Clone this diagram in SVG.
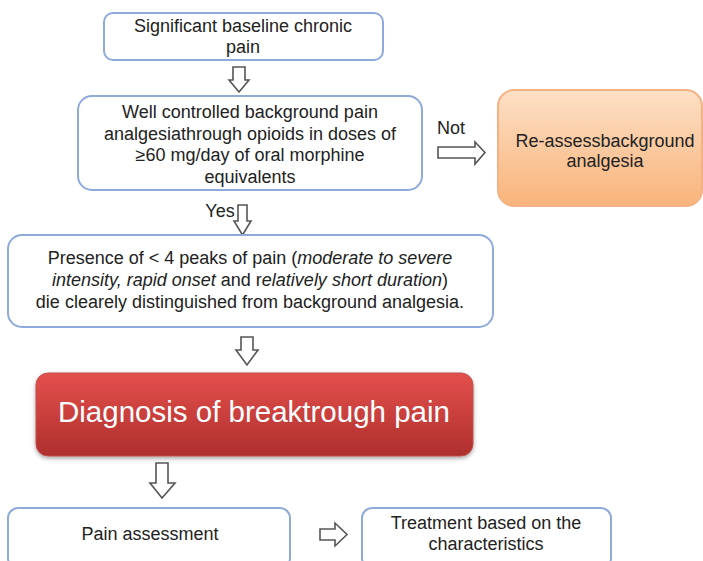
<svg xmlns="http://www.w3.org/2000/svg" width="703" height="561" viewBox="0 0 703 561">
<style>
.box{fill:#fff;stroke:#8eaadb;stroke-width:2}
.t{font-family:"Liberation Sans",Arial,sans-serif;font-size:18px;fill:#222;text-anchor:middle}
.arr{fill:#fff;stroke:#555;stroke-width:1.6;stroke-linejoin:miter}
</style>
<defs>
<linearGradient id="og" x1="0" y1="0" x2="0" y2="1">
<stop offset="0" stop-color="#fde0c6"/><stop offset="1" stop-color="#f8b37a"/>
</linearGradient>
<linearGradient id="rg" x1="0" y1="0" x2="0" y2="1">
<stop offset="0" stop-color="#e4504c"/><stop offset="1" stop-color="#ae2f2d"/>
</linearGradient>
<filter id="sh" x="-10%" y="-10%" width="120%" height="130%">
<feDropShadow dx="0" dy="2" stdDeviation="2" flood-color="#000" flood-opacity="0.35"/>
</filter>
</defs>
<rect width="703" height="561" fill="#fff"/>
<g id="connectors">
<path class="arr" d="M233,67 H245 V80 H249 L239,92 L229,80 H233 Z"/>
<path class="arr" d="M438,147 H475 V142 L485,152.5 L475,164 V158 H438 Z"/>
<text class="t" x="451" y="134">Not</text>
<path class="arr" d="M238,205 H247 V221 H251 L242.5,235 L234,221 H238 Z"/>
<text class="t" x="220" y="217">Yes</text>
<path class="arr" d="M241,337 H253 V350 H258 L247,365 L236,350 H241 Z"/>
<path class="arr" d="M156,463 H168 V483 H175 L162,498 L150,483 H156 Z"/>
<path class="arr" d="M320,529 H335 V523 L347,534.5 L335,546 V540 H320 Z"/>
</g>
<g id="n1">
<rect class="box" x="104" y="13" width="279" height="47" rx="9"/>
<text class="t" x="243" y="32">Significant baseline chronic</text>
<text class="t" x="243" y="53">pain</text>
</g>
<g id="n2">
<rect class="box" x="78" y="96" width="344" height="94" rx="14"/>
<text class="t" x="250" y="118">Well controlled background pain</text>
<text class="t" x="250" y="139.5">analgesiathrough opioids in doses of</text>
<text class="t" x="250" y="161">≥60 mg/day of oral morphine</text>
<text class="t" x="250" y="182.5">equivalents</text>
</g>
<g id="n3">
<rect x="498" y="90" width="204" height="116" rx="16" fill="url(#og)" stroke="#f4b183" stroke-width="2"/>
<text class="t" x="605" y="147">Re-assessbackground</text>
<text class="t" x="605" y="167">analgesia</text>
</g>
<g id="n4">
<rect class="box" x="8" y="235" width="485" height="92" rx="14"/>
<text class="t" x="250" y="264">Presence of &lt; 4 peaks of pain (<tspan font-style="italic">moderate to severe</tspan></text>
<text class="t" x="250" y="286"><tspan font-style="italic">intensity, rapid onset</tspan> and r<tspan font-style="italic">elatively short duration</tspan>)</text>
<text class="t" x="250" y="308">die clearely distinguished from background analgesia.</text>
</g>
<g id="n5">
<rect x="36" y="373" width="437" height="83" rx="12" fill="url(#rg)" stroke="#c0504d" stroke-width="1" filter="url(#sh)"/>
<text class="t" x="254" y="422" style="font-size:29.5px;fill:#fff">Diagnosis of breaktrough pain</text>
</g>
<g id="n6">
<rect class="box" x="8" y="508" width="282" height="60" rx="10"/>
<text class="t" x="150" y="540">Pain assessment</text>
</g>
<g id="n7">
<rect class="box" x="362" y="508" width="249" height="60" rx="10"/>
<text class="t" x="486" y="529">Treatment based on the</text>
<text class="t" x="486" y="550">characteristics</text>
</g>
</svg>
